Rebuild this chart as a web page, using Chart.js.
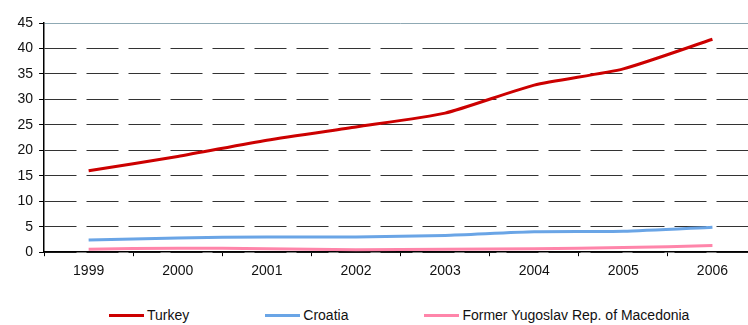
<!DOCTYPE html>
<html>
<head>
<meta charset="utf-8">
<script src="https://cdn.jsdelivr.net/npm/chart.js@4"></script>
<style>
  html, body { margin: 0; padding: 0; background: #fff; overflow: hidden; }
  body { width: 748px; height: 325px; position: relative; font-family: "Liberation Sans", Arial, sans-serif; }
  #wrap { position: absolute; left: 0; top: 0; width: 761px; height: 291px; }
  #legend { position: absolute; top: 306px; left: 109px; height: 18px; font-size: 14px; color: #111; white-space: nowrap; display: flex; gap: 76px; align-items: center; }
  #legend .item { display: flex; align-items: center; }
  #legend .swatch { display: inline-block; width: 35px; height: 3px; margin-right: 3px; }
</style>
</head>
<body>
<div id="wrap"><canvas id="chart"></canvas></div>
<div id="legend"></div>
<script>
const years = ['1999', '2000', '2001', '2002', '2003', '2004', '2005', '2006'];
const turkey = [16.0, 18.8, 22.0, 24.6, 27.3, 32.8, 36.0, 41.8];
const croatia = [2.4, 2.8, 3.0, 3.0, 3.3, 4.0, 4.1, 4.9];
const macedonia = [0.6, 0.8, 0.7, 0.5, 0.6, 0.7, 0.9, 1.3];

const seriesNames = ['Turkey', 'Croatia', 'Former Yugoslav Rep. of Macedonia'];
const seriesColors = ['#cc0000', '#6aa5e6', '#ff85aa'];

function line(label, values, color) {
    return {
        label: label, data: values,
        borderColor: color, backgroundColor: color,
        borderWidth: 3, pointRadius: 0, tension: 0.2, fill: false
    };
}

const tickFont = { family: 'Liberation Sans', size: 14 };

const chart = new Chart(document.getElementById('chart'), {
    type: 'line',
    data: {
        labels: years,
        datasets: [
            line(seriesNames[0], turkey, seriesColors[0]),
            line(seriesNames[1], croatia, seriesColors[1]),
            line(seriesNames[2], macedonia, seriesColors[2])
        ]
    },
    options: {
        responsive: true,
        maintainAspectRatio: false,
        animation: false,
        layout: { padding: { left: 11.5, top: 23, right: 4, bottom: 4 } },
        plugins: { legend: { display: false }, tooltip: { enabled: false } },
        scales: {
            x: {
                offset: true,
                grid: { offset: true, drawOnChartArea: false, tickLength: 4, tickColor: '#000', color: '#000' },
                border: { color: '#000', width: 1.5 },
                ticks: { color: '#111', font: tickFont, padding: 7 }
            },
            y: {
                min: 0, max: 45,
                grid: {
                    tickLength: 5, tickColor: '#000', lineWidth: 1,
                    color: ctx => ctx.tick && ctx.tick.value === 45 ? '#8fa9b4' : '#333'
                },
                border: {
                    color: '#000', width: 1.5,
                    dash: ctx => ctx.tick && ctx.tick.value === 45 ? [] : [32, 10]
                },
                ticks: { stepSize: 5, color: '#111', font: tickFont, padding: 6 }
            }
        }
    }
});

const legend = document.getElementById('legend');
seriesNames.forEach((name, i) => {
    const item = document.createElement('span');
    item.className = 'item';
    const sw = document.createElement('span');
    sw.className = 'swatch';
    sw.style.background = seriesColors[i];
    item.appendChild(sw);
    item.appendChild(document.createTextNode(name));
    legend.appendChild(item);
});
</script>
</body>
</html>
